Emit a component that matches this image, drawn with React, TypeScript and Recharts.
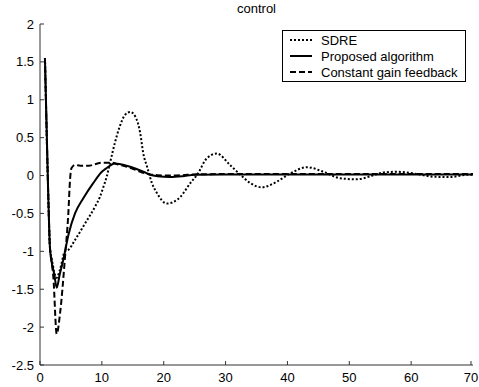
import React from 'react';
import { LineChart, Line, XAxis, YAxis, Legend } from 'recharts';

// --- data ---
const sdreT = [0.8, 1.35, 1.6, 1.9, 2.7, 3.2, 4.05, 4.6, 5.66, 7.3, 8.9, 9.7, 10.25, 10.8, 11.3, 12.1, 12.9, 13.75, 14.6, 15.4, 16.2, 16.7, 17.3, 18.1, 18.9, 20.5, 22.7, 24.3, 25.4, 27, 28.6, 30.7, 32.4, 34, 35.9, 38.3, 40.5, 43.2, 45.8, 48.5, 51.2, 53.4, 55.5, 57.7, 61, 63.6, 66.3, 69, 70];
const sdreY = [1.55, -0.3, -0.94, -1.1, -1.35, -1.25, -1.0, -0.98, -0.85, -0.63, -0.41, -0.28, -0.15, -0.01, 0.16, 0.43, 0.65, 0.8, 0.84, 0.78, 0.56, 0.29, 0.12, -0.1, -0.23, -0.37, -0.28, -0.1, 0.01, 0.23, 0.29, 0.14, 0.01, -0.1, -0.155, -0.08, 0.03, 0.11, 0.05, -0.035, -0.05, -0.01, 0.04, 0.05, 0.02, -0.015, -0.02, 0.01, 0.01];

const proposedT = [0.8, 1.35, 1.6, 1.9, 2.3, 2.7, 3.2, 3.77, 4.6, 5.66, 7, 8.6, 10, 10.8, 12.1, 13, 14, 15.5, 17, 17.8, 19, 21, 23, 25, 30, 40, 50, 60, 70];
const proposedY = [1.55, -0.3, -0.94, -1.15, -1.3, -1.48, -1.3, -1.11, -0.78, -0.5, -0.3, -0.1, 0.05, 0.1, 0.16, 0.15, 0.13, 0.09, 0.04, 0.01, -0.01, -0.02, -0.01, 0.01, 0.015, 0.015, 0.015, 0.015, 0.015];

const constantT = [0.8, 1.35, 1.6, 1.9, 2.15, 2.7, 3.24, 4.05, 4.58, 4.85, 5.1, 5.66, 6.5, 7.8, 10, 11.6, 12.5, 13.5, 15, 16.5, 17.8, 19, 21, 23, 25, 30, 40, 50, 60, 70];
const constantY = [1.55, -0.3, -0.94, -1.15, -1.33, -2.09, -1.82, -1.07, -0.5, -0.06, 0.1, 0.14, 0.13, 0.13, 0.17, 0.17, 0.15, 0.13, 0.09, 0.04, 0.015, 0.005, 0.0, 0.005, 0.015, 0.02, 0.02, 0.02, 0.02, 0.02];

const xTicks = [0, 10, 20, 30, 40, 50, 60, 70];
const yTicks = [-2.5, -2, -1.5, -1, -0.5, 0, 0.5, 1, 1.5, 2];

const toPoints = (t: number[], y: number[]) => t.map((tt, i) => ({ t: tt, y: y[i] }));

const series = [
  { name: 'SDRE', data: toPoints(sdreT, sdreY), dash: '2 2', width: 2 },
  { name: 'Proposed algorithm', data: toPoints(proposedT, proposedY), dash: undefined, width: 2 },
  { name: 'Constant gain feedback', data: toPoints(constantT, constantY), dash: '6 3', width: 2 },
];

const FONT = '"Liberation Sans", Arial, sans-serif';
const AXIS = '#333';

const YTick = (props: any) => {
  const { x, y, payload } = props;
  return (
    <g>
      <line x1={x} x2={x + 4} y1={y} y2={y} stroke={AXIS} />
      <text x={x - 6} y={y + 4.5} textAnchor="end" fontSize={13} fontFamily={FONT} fill="#000">
        {payload.value}
      </text>
    </g>
  );
};

const XTick = (props: any) => {
  const { x, y, payload } = props;
  return (
    <g>
      <line x1={x} x2={x} y1={y} y2={y - 4} stroke={AXIS} />
      <text x={x} y={y + 16.5} textAnchor="middle" fontSize={13} fontFamily={FONT} fill="#000">
        {payload.value}
      </text>
    </g>
  );
};

const LegendBox = () => (
  <div
    style={{
      width: 184,
      height: 52,
      boxSizing: 'border-box',
      border: '1px solid #000',
      background: '#fff',
      fontFamily: FONT,
      fontSize: 13,
      paddingTop: 1,
    }}
  >
    {series.map(s => (
      <div key={s.name} style={{ display: 'flex', alignItems: 'center', height: 16 }}>
        <svg width={38} height={16}>
          <line x1={7} x2={29} y1={8} y2={8} stroke="#000" strokeWidth={s.width} strokeDasharray={s.dash} />
        </svg>
        <span>{s.name}</span>
      </div>
    ))}
  </div>
);

export default function App() {
  return (
    <div style={{ position: 'absolute', left: 0, top: 0, width: 479, height: 387, background: '#fff' }}>
      <div
        style={{
          position: 'absolute',
          left: 40,
          top: 1,
          width: 433,
          textAlign: 'center',
          fontFamily: FONT,
          fontSize: 13,
        }}
      >
        control
      </div>
      <LineChart width={479} height={387} margin={{ top: 24, right: 6, bottom: 0, left: 0 }}>
        <XAxis
          type="number"
          dataKey="t"
          domain={[0, 70]}
          ticks={xTicks}
          height={22}
          stroke={AXIS}
          tickSize={0}
          tickMargin={0}
          tickLine={false}
          tick={XTick}
          allowDataOverflow
        />
        <YAxis
          type="number"
          dataKey="y"
          domain={[-2.5, 2]}
          ticks={yTicks}
          width={40}
          stroke={AXIS}
          tickSize={0}
          tickMargin={0}
          tickLine={false}
          tick={YTick}
          allowDataOverflow
        />
        <Legend
          layout="horizontal"
          verticalAlign="middle"
          align="center"
          wrapperStyle={{ left: 282, top: 30, width: 184, height: 52 }}
          content={() => <LegendBox />}
        />
        {series.map(s => (
          <Line
            key={s.name}
            name={s.name}
            data={s.data}
            dataKey="y"
            type="monotone"
            stroke="#000"
            strokeWidth={s.width}
            strokeDasharray={s.dash}
            dot={false}
            activeDot={false}
            isAnimationActive={false}
          />
        ))}
      </LineChart>
    </div>
  );
}
